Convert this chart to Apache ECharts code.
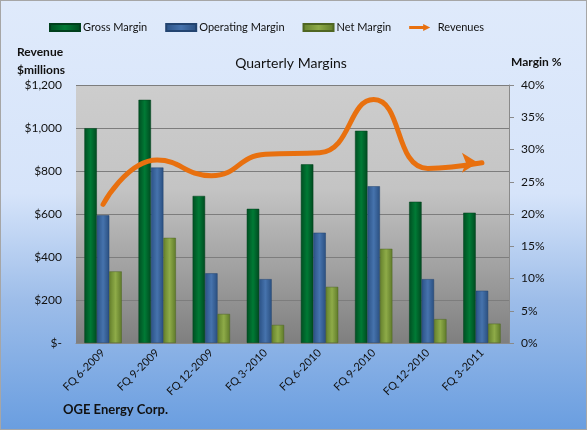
<!DOCTYPE html>
<html>
<head>
<meta charset="utf-8">
<script src="https://cdn.jsdelivr.net/npm/echarts@6/dist/echarts.min.js"></script>
<style>
  html, body { margin: 0; padding: 0; background: #fff; }
  #main {
    width: 585px; height: 428px;
    border: 1px solid #a6a6a6;
    background: linear-gradient(to bottom, #dfeafb 0%, #d6e4fa 45%, #9dbde9 70%, #6a9ee0 100%);
  }
</style>
</head>
<body>
<div id="main"></div>
<script>
var quarters = ["FQ 6-2009", "FQ 9-2009", "FQ 12-2009", "FQ 3-2010", "FQ 6-2010", "FQ 9-2010", "FQ 12-2010", "FQ 3-2011"];
var grossMargin = [33.3, 37.7, 22.8, 20.8, 27.7, 32.9, 21.9, 20.2];
var operatingMargin = [19.8, 27.2, 10.8, 9.9, 17.1, 24.3, 9.9, 8.1];
var netMargin = [11.1, 16.3, 4.5, 2.8, 8.7, 14.6, 3.7, 3.0];
var revenues = [645, 851, 778, 878, 885, 1132, 812, 838];

var font = "Lato";
var chartDom = document.getElementById("main");
var myChart = echarts.init(chartDom);

function barColor(a, b, c) {
  return new echarts.graphic.LinearGradient(0, 0, 1, 0, [
    { offset: 0, color: a },
    { offset: 0.5, color: b },
    { offset: 1, color: c },
  ]);
}

// last revenue point gets the arrow head
var revenueData = revenues.map(function (v, i) {
  if (i === revenues.length - 1) {
    return { value: v, symbol: "arrow", symbolSize: [15, 16], symbolRotate: -90, symbolOffset: [-4, 0] };
  }
  return v;
});

var option = {
  backgroundColor: "transparent",
  textStyle: { fontFamily: font },
  title: {
    text: "Quarterly Margins",
    left: 285,
    top: 50,
    textAlign: "center",
    textStyle: { fontFamily: font, fontSize: 14, fontWeight: "normal", color: "#111" },
  },
  legend: {
    top: 16,
    left: 43,
    itemWidth: 30,
    itemHeight: 7,
    itemGap: 18,
    textStyle: { fontFamily: font, fontSize: 11, color: "#111", padding: [0, 0, 0, -2] },
    data: [
      { name: "Gross Margin", icon: "rect" },
      { name: "Operating Margin", icon: "rect" },
      { name: "Net Margin", icon: "rect" },
      { name: "Revenues", icon: "path://M0,3 L20,3 L20,0 L30,5 L20,10 L20,7 L0,7 Z" },
    ],
  },
  grid: {
    left: 75,
    right: 77,
    top: 84,
    bottom: 86,
    show: true,
    borderWidth: 0,
    backgroundColor: new echarts.graphic.LinearGradient(0, 0, 0, 1, [
      { offset: 0, color: "#cdcdcd" },
      { offset: 0.4, color: "#c4c4c4" },
      { offset: 0.7, color: "#a2a2a2" },
      { offset: 1, color: "#7f7f7f" },
    ]),
  },
  xAxis: {
    type: "category",
    data: quarters,
    axisLine: { lineStyle: { color: "#8a8a8a", width: 1 } },
    axisTick: { show: false },
    axisLabel: { rotate: 45, fontFamily: font, fontSize: 11, color: "#111", margin: 8 },
  },
  yAxis: [
    {
      type: "value",
      min: 0,
      max: 1200,
      interval: 200,
      axisLine: { show: false },
      axisTick: { show: false },
      splitLine: { lineStyle: { color: "#7d7d7d", width: 1 } },
      axisLabel: {
        fontFamily: font,
        fontSize: 12,
        color: "#111",
        margin: 14,
        formatter: function (v) {
          return v === 0 ? "$-" : "$" + v.toLocaleString("en-US");
        },
      },
    },
    {
      type: "value",
      min: 0,
      max: 40,
      interval: 5,
      axisLine: { show: true, lineStyle: { color: "#8a8a8a" } },
      axisTick: { show: true, length: 5, lineStyle: { color: "#8a8a8a" } },
      splitLine: { show: false },
      axisLabel: { fontFamily: font, fontSize: 12, color: "#111", margin: 12, formatter: "{value}%" },
    },
  ],
  series: [
    {
      name: "Gross Margin",
      type: "bar",
      yAxisIndex: 1,
      data: grossMargin,
      barGap: "0%",
      barCategoryGap: "31%",
      itemStyle: { color: barColor("#004f22", "#007a35", "#004a20"), borderColor: "#00401c", borderWidth: 0.5 },
    },
    {
      name: "Operating Margin",
      type: "bar",
      yAxisIndex: 1,
      data: operatingMargin,
      itemStyle: { color: barColor("#2b5286", "#4673ad", "#2a4f80"), borderColor: "#234470", borderWidth: 0.5 },
    },
    {
      name: "Net Margin",
      type: "bar",
      yAxisIndex: 1,
      data: netMargin,
      itemStyle: { color: barColor("#64802c", "#8eab48", "#5f7a2a"), borderColor: "#4f6622", borderWidth: 0.5 },
    },
    {
      name: "Revenues",
      type: "line",
      yAxisIndex: 0,
      data: revenueData,
      smooth: 0.5,
      symbol: "none",
      showSymbol: true,
      color: "#e8700f",
      lineStyle: { width: 5, color: "#e8700f", cap: "round" },
      itemStyle: { color: "#e8700f" },
      z: 5,
    },
  ],
  graphic: [
    {
      type: "text",
      left: 16,
      top: 42,
      style: { text: "Revenue\n$millions", font: "bold 12px " + font, fill: "#111", lineHeight: 18, textAlign: "left" },
    },
    {
      type: "text",
      left: 510,
      top: 55,
      style: { text: "Margin %", font: "bold 12px " + font, fill: "#111" },
    },
    {
      type: "text",
      left: 62,
      top: 402,
      style: { text: "OGE Energy Corp.", font: "bold 13px " + font, fill: "#111" },
    },
  ],
};

myChart.setOption(option);
</script>
</body>
</html>
